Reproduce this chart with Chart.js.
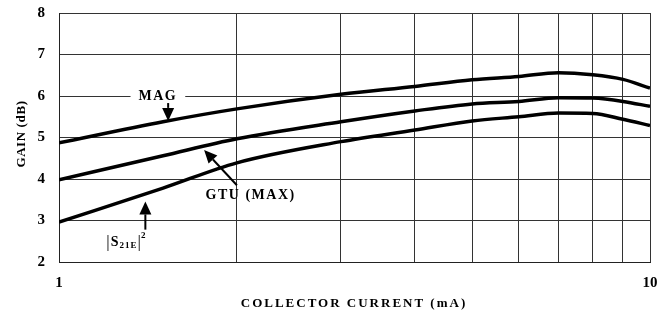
<!DOCTYPE html>
<html>
<head>
<meta charset="utf-8">
<script src="https://cdn.jsdelivr.net/npm/chart.js@4/dist/chart.umd.min.js"></script>
<style>
  html, body { margin: 0; padding: 0; background: #fff; }
  #wrap { width: 671px; height: 314px; }
</style>
</head>
<body>
<div id="wrap"><canvas id="gainChart" width="671" height="314"></canvas></div>
<script>
// collector current (mA) and gain curves (dB)
const currents = [1, 1.5, 2, 3, 4, 5, 6, 7, 8, 9, 10];
const magGain = [4.87, 5.38, 5.69, 6.04, 6.23, 6.39, 6.47, 6.56, 6.51, 6.40, 6.19];
const gtuGain = [3.98, 4.56, 4.97, 5.38, 5.64, 5.81, 5.87, 5.96, 5.95, 5.87, 5.75];
const s21Gain = [2.96, 3.78, 4.39, 4.90, 5.18, 5.40, 5.50, 5.59, 5.58, 5.44, 5.29];

const xTicks = [1, 2, 3, 4, 5, 6, 7, 8, 9, 10];
const xTickLabels = ['1', '', '', '', '', '', '', '', '', '10'];
const yTicks = [2, 3, 4, 5, 6, 7, 8];

const serif = "'Liberation Serif', 'DejaVu Serif', serif";

function toPoints(ys) {
    return currents.map((x, i) => ({ x: x, y: ys[i] }));
}

function curve(data) {
    return {
        data: toPoints(data),
        borderColor: '#000',
        borderWidth: 3.5,
        pointRadius: 0,
        fill: false,
        cubicInterpolationMode: 'monotone'
    };
}

function arrow(ctx, x1, y1, x2, y2) {
    const ang = Math.atan2(y2 - y1, x2 - x1);
    const len = 13, half = 6;
    const bx = x2 - len * Math.cos(ang), by = y2 - len * Math.sin(ang);
    ctx.beginPath();
    ctx.moveTo(x1, y1);
    ctx.lineTo(bx, by);
    ctx.lineWidth = 2;
    ctx.strokeStyle = '#000';
    ctx.stroke();
    ctx.beginPath();
    ctx.moveTo(x2, y2);
    ctx.lineTo(bx + half * Math.sin(ang), by - half * Math.cos(ang));
    ctx.lineTo(bx - half * Math.sin(ang), by + half * Math.cos(ang));
    ctx.closePath();
    ctx.fillStyle = '#000';
    ctx.fill();
}

const notes = {
    id: 'notes',
    afterDatasetsDraw(chart) {
        const ctx = chart.ctx;
        const xs = chart.scales.x, ys = chart.scales.y;
        const px = v => xs.getPixelForValue(v);
        const py = v => ys.getPixelForValue(v);
        ctx.save();
        ctx.fillStyle = '#000';
        ctx.textBaseline = 'middle';
        ctx.textAlign = 'center';

        // MAG
        ctx.font = 'bold 14px ' + serif;
        ctx.letterSpacing = '1.5px';
        const mw = ctx.measureText('MAG').width;
        ctx.fillStyle = '#fff';
        ctx.fillRect(px(1.47) - mw / 2 - 8, py(6) - 7, mw + 16, 14);
        ctx.fillStyle = '#000';
        ctx.fillText('MAG', px(1.47), py(6));
        arrow(ctx, px(1.53), py(5.83), px(1.53), py(5.40));

        // GTU (MAX)
        ctx.fillText('GTU (MAX)', px(2.11), py(3.6));
        arrow(ctx, px(2.0), py(3.85), px(1.76), py(4.70));

        // |S21E|^2
        ctx.letterSpacing = '0px';
        ctx.textAlign = 'left';
        let x = px(1.3) - 20;
        const y = py(2.47);
        ctx.font = '17px ' + serif;
        ctx.fillText('|', x, y); x += ctx.measureText('|').width + 1;
        ctx.font = 'bold 14px ' + serif;
        ctx.fillText('S', x, y); x += ctx.measureText('S').width + 1;
        ctx.font = 'bold 9px ' + serif;
        ctx.letterSpacing = '1px';
        ctx.fillText('21E', x, y + 3); x += ctx.measureText('21E').width;
        ctx.letterSpacing = '0px';
        ctx.font = '17px ' + serif;
        ctx.fillText('|', x, y); x += ctx.measureText('|').width;
        ctx.font = 'bold 9px ' + serif;
        ctx.fillText('2', x, y - 7);
        arrow(ctx, px(1.40), py(2.78), px(1.40), py(3.46));

        // axis titles
        ctx.font = 'bold 13px ' + serif;
        ctx.letterSpacing = '2px';
        ctx.textAlign = 'center';
        ctx.fillText('COLLECTOR CURRENT (mA)', 354, 304);
        ctx.translate(22, 134);
        ctx.rotate(-Math.PI / 2);
        ctx.font = 'bold 13px ' + serif;
        ctx.letterSpacing = '0.6px';
        ctx.fillText('GAIN (dB)', 0, 0);
        ctx.restore();
    }
};

new Chart(document.getElementById('gainChart'), {
    type: 'line',
    data: {
        datasets: [curve(magGain), curve(gtuGain), curve(s21Gain)]
    },
    options: {
        responsive: false,
        animation: false,
        layout: { padding: { left: 0, right: 21, top: 13, bottom: 0 } },
        plugins: { legend: { display: false }, tooltip: { enabled: false } },
        scales: {
            x: {
                type: 'logarithmic',
                min: 1,
                max: 10,
                afterBuildTicks: s => { s.ticks = xTicks.map(v => ({ value: v })); },
                afterFit: s => { s.height = 52; s.paddingLeft = 0; s.paddingRight = 0; },
                grid: { color: '#333', lineWidth: 1, drawTicks: false },
                border: { color: '#222', width: 1 },
                ticks: {
                    autoSkip: false,
                    maxRotation: 0,
                    padding: 12,
                    color: '#000',
                    font: { family: serif, size: 15, weight: 'bold' },
                    callback: (v, i) => xTickLabels[i]
                }
            },
            y: {
                min: 2,
                max: 8,
                afterBuildTicks: s => { s.ticks = yTicks.map(v => ({ value: v })); },
                afterFit: s => { s.width = 59; s.paddingTop = 0; s.paddingBottom = 0; },
                grid: { color: '#333', lineWidth: 1, drawTicks: false },
                border: { color: '#222', width: 1 },
                ticks: {
                    padding: 14,
                    color: '#000',
                    font: { family: serif, size: 15, weight: 'bold' }
                }
            }
        }
    },
    plugins: [notes]
});
</script>
</body>
</html>
